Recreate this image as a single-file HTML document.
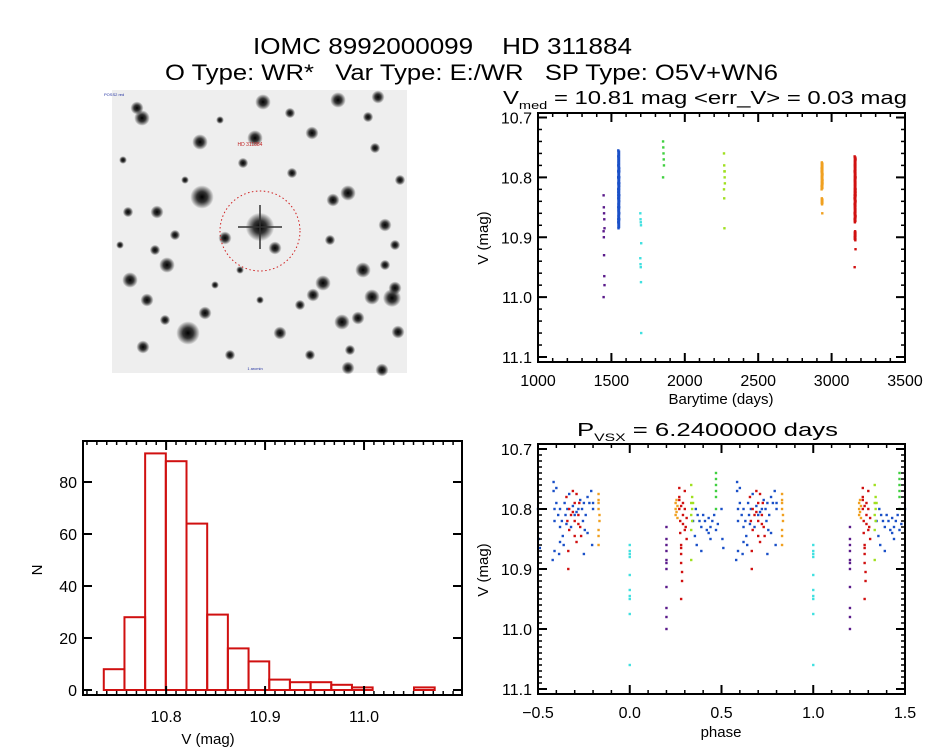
<!DOCTYPE html>
<html><head><meta charset="utf-8"><style>
html,body{margin:0;padding:0;background:#fff;}
svg{display:block;font-family:"Liberation Sans",sans-serif;}
</style></head><body>
<svg id="fig" width="944" height="747" viewBox="0 0 944 747" xmlns="http://www.w3.org/2000/svg">
<defs>
<radialGradient id="star"><stop offset="0" stop-color="#000" stop-opacity="1"/><stop offset="0.45" stop-color="#111" stop-opacity="0.85"/><stop offset="1" stop-color="#000" stop-opacity="0"/></radialGradient>
</defs>
<rect width="944" height="747" fill="#fff"/>
<text x="253" y="54" font-size="23" textLength="379" lengthAdjust="spacingAndGlyphs" xml:space="preserve">IOMC 8992000099    HD 311884</text>
<text x="165" y="80" font-size="22" textLength="613" lengthAdjust="spacingAndGlyphs" xml:space="preserve">O Type: WR*   Var Type: E:/WR   SP Type: O5V+WN6</text>
<g id="img"></g>
<g id="lc"></g>
<g id="hist"></g>
<g id="ph"></g>
</svg>
<script>
// ---- data ----
const groupNames = ['purple','blue','cyan','green','lime','orange','red'];
const groupColors = ['#5a1a8a','#1a50c8','#40e0e0','#40d040','#a0e020','#f0a020','#d01010'];
const groupTimes = [1450, 1550, 1700, 1855, 2270, 2935, 3160];
const purplePts = [[0.2,10.83],[0.2,10.85],[0.2,10.86],[0.2,10.87],[0.2,10.885],[0.2,10.89],[0.2,10.90],[0.2,10.93],[0.2,10.965],[0.2,10.98],[0.2,11.0]];
const bluePts = [[0.585,10.755],[0.585,10.77],[0.59,10.80],[0.59,10.82],[0.59,10.87],[0.60,10.79],[0.61,10.81],[0.615,10.875],[0.62,10.80],[0.62,10.83],[0.63,10.82],[0.635,10.845],[0.64,10.86],[0.645,10.79],[0.65,10.81],[0.655,10.825],[0.66,10.80],[0.70,10.81],[0.72,10.80],[0.73,10.785],[0.74,10.80],[0.745,10.82],[0.75,10.79],[0.755,10.835],[0.76,10.81],[0.77,10.78],[0.78,10.79],[0.79,10.77],[0.795,10.86],[0.80,10.79],[0.80,10.80],[0.36,10.80],[0.37,10.81],[0.38,10.82],[0.39,10.83],[0.39,10.87],[0.40,10.81],[0.41,10.82],[0.42,10.835],[0.43,10.84],[0.44,10.83],[0.45,10.82],[0.46,10.81],[0.48,10.825],[0.50,10.80],[0.505,10.85],[0.51,10.865],[0.345,10.82],[0.355,10.845],[0.365,10.86],[0.60,10.765],[0.67,10.775],[0.69,10.795],[0.71,10.805],[0.43,10.815],[0.47,10.835],[0.62,10.855],[0.77,10.84],[0.68,10.83],[0.44,10.85],[0.75,10.875],[0.58,10.885]];
const cyanPts = [[0.0,10.86],[0.0,10.87],[0.0,10.875],[0.0,10.88],[0.0,10.91],[0.0,10.935],[0.0,10.945],[0.0,10.95],[0.0,10.975],[0.0,11.06]];
const greenPts = [[0.47,10.74],[0.47,10.75],[0.47,10.76],[0.47,10.77],[0.47,10.78],[0.47,10.80]];
const limePts = [[0.335,10.76],[0.34,10.78],[0.335,10.79],[0.34,10.80],[0.335,10.81],[0.34,10.82],[0.335,10.835],[0.335,10.885],[0.345,10.79]];
const orangePts = [[0.25,10.79],[0.25,10.80],[0.25,10.81],[0.255,10.785],[0.26,10.795],[0.26,10.815],[0.83,10.775],[0.83,10.79],[0.83,10.80],[0.835,10.81],[0.835,10.82],[0.83,10.835],[0.83,10.845],[0.83,10.86],[0.255,10.805],[0.83,10.785]];
const redPts = [[0.27,10.765],[0.27,10.78],[0.27,10.80],[0.275,10.82],[0.275,10.84],[0.28,10.86],[0.28,10.875],[0.28,10.89],[0.285,10.905],[0.285,10.92],[0.28,10.95],[0.29,10.79],[0.29,10.81],[0.30,10.77],[0.30,10.80],[0.305,10.83],[0.31,10.85],[0.31,10.815],[0.655,10.78],[0.66,10.82],[0.665,10.87],[0.665,10.90],[0.67,10.80],[0.68,10.81],[0.69,10.77],[0.70,10.79],[0.70,10.82],[0.71,10.775],[0.72,10.81],[0.73,10.83],[0.735,10.845],[0.725,10.79],[0.27,10.785],[0.28,10.795],[0.29,10.825],[0.3,10.835],[0.69,10.805],[0.7,10.845],[0.71,10.855],[0.28,10.865],[0.67,10.835],[0.72,10.825]];
const groupPts = [purplePts, bluePts, cyanPts, greenPts, limePts, orangePts, redPts];
const histEdgeStart = 10.737;
const histBinWidth = 0.0209;
const histCounts = [8,28,91,88,64,29,16,11,4,3,3,2,1,0,0,1];
const lcXTicks = [1000,1500,2000,2500,3000,3500];
const magTicks = [10.7,10.8,10.9,11.0,11.1];
const phaseTicks = [-0.5,0.0,0.5,1.0,1.5];
const histXTicks = [10.8,10.9,11.0];
const histYTicks = [0,20,40,60,80];
const stars = [[202,197,9],[260,227,11],[188,333,9],[263,102,6],[338,100,6],[378,97,5],[142,118,6],[137,108,5],[200,142,6],[255,138,6],[312,133,5],[348,193,6],[333,200,5],[130,280,6],[167,265,6],[147,300,5],[323,283,6],[363,270,6],[342,322,6],[280,333,5],[143,347,5],[392,298,7],[372,297,6],[395,288,5],[398,332,5],[358,318,5],[157,212,5],[128,212,4],[205,313,5],[275,248,5],[225,238,5],[243,163,4],[292,173,4],[375,148,4],[368,117,4],[385,225,5],[313,295,5],[348,368,5],[382,370,5],[185,180,3],[290,113,4],[220,120,3],[175,235,4],[330,240,4],[395,245,4],[240,270,3],[300,305,4],[165,320,4],[230,355,4],[400,180,4],[123,160,3],[215,285,3],[350,350,4],[310,355,4],[260,300,3],[155,250,4],[385,265,4],[120,245,3]];

const svg = document.getElementById('fig');
const NS = 'http://www.w3.org/2000/svg';
function mk(parent, tag, attrs, text){
  const e = document.createElementNS(NS, tag);
  for (const k in attrs) e.setAttribute(k, attrs[k]);
  if (text !== undefined) e.textContent = text;
  parent.appendChild(e);
  return e;
}
function lin(d0,d1,r0,r1){ return v => r0 + (v-d0)/(d1-d0)*(r1-r0); }

// ---- sky image ----
const img = document.getElementById('img');
const bg = mk(img,'rect',{x:112,y:90,width:295,height:283,fill:'#eeeeee'});


stars.forEach(s=>{
  const c = mk(img,'circle',{cx:s[0],cy:s[1],r:s[2]*1.3,fill:'url(#star)'});
  
  
});
mk(img,'line',{x1:238,y1:227,x2:282,y2:227,stroke:'#333','stroke-width':1.5});
mk(img,'line',{x1:260,y1:205,x2:260,y2:249,stroke:'#333','stroke-width':1.5});
const ring = mk(img,'circle',{cx:260,cy:231,r:40,fill:'none',stroke:'#d02020','stroke-width':1,'stroke-dasharray':'1.5 2.5'});


const lab = mk(img,'text',{x:250,y:146,'font-size':5,fill:'#c02020','text-anchor':'middle'},'HD 311884');


mk(img,'text',{x:104,y:96,'font-size':4,fill:'#2030a0'},'POSS2 red');
mk(img,'text',{x:255,y:370,'font-size':4,fill:'#2030a0','text-anchor':'middle'},'1 arcmin');

// ---- axes helper ----
function frame(g, L, T, R, B){
  const r = mk(g,'rect',{x:L,y:T,width:R-L,height:B-T,fill:'none',stroke:'#000','stroke-width':2});
  
  
}
function xTicks(g, sx, L, R, T, B, majors, minorStep, fmt, labelY){
  const lo = Math.min(sx.inv0, sx.inv1), hi = Math.max(sx.inv0, sx.inv1);
  for (let v = Math.ceil(lo/minorStep-1e-6)*minorStep; v <= hi+1e-9; v += minorStep){
    const x = sx(v);
    mk(g,'line',{x1:x,y1:B,x2:x,y2:B-4,stroke:'#000','stroke-width':1.5});
    mk(g,'line',{x1:x,y1:T,x2:x,y2:T+4,stroke:'#000','stroke-width':1.5});
  }
  majors.forEach(v=>{
    const x = sx(v);
    mk(g,'line',{x1:x,y1:B,x2:x,y2:B-9,stroke:'#000','stroke-width':2});
    mk(g,'line',{x1:x,y1:T,x2:x,y2:T+9,stroke:'#000','stroke-width':2});
    const t = mk(g,'text',{x:x,y:labelY,'font-size':16,'text-anchor':'middle'},fmt(v));
    
    
  });
}
function yTicks(g, sy, L, R, lo, hi, majors, minorStep, fmt){
  if (minorStep){
    for (let v = Math.ceil(lo/minorStep-1e-6)*minorStep; v <= hi+1e-9; v += minorStep){
      const y = sy(v);
      mk(g,'line',{x1:L,y1:y,x2:L+4,y2:y,stroke:'#000','stroke-width':1.5});
      mk(g,'line',{x1:R,y1:y,x2:R-4,y2:y,stroke:'#000','stroke-width':1.5});
    }
  }
  majors.forEach(v=>{
    const y = sy(v);
    mk(g,'line',{x1:L,y1:y,x2:L+9,y2:y,stroke:'#000','stroke-width':2});
    mk(g,'line',{x1:R,y1:y,x2:R-9,y2:y,stroke:'#000','stroke-width':2});
    const t = mk(g,'text',{x:L-6,y:y+6,'font-size':16,'text-anchor':'end'},fmt(v));
    
    
  });
}
function label(g, x, y, txt, rot, name){
  const t = mk(g,'text',{x:x,y:y,'font-size':15,'text-anchor':'middle',transform:rot?`rotate(-90 ${x} ${y})`:''},txt);
  
  
  return t;
}
function dot(g, x, y, color){
  const d = mk(g,'rect',{x:x-1.2,y:y-1.2,width:2.4,height:2.4,fill:color});
  
  
}

// ---- light curve ----
(function(){
  const g = document.getElementById('lc');
  const L=538,R=905,T=113,B=362;
  const sx = lin(1000,3500,L,R); sx.inv0=1000; sx.inv1=3500;
  const sy = lin(10.7,11.1,117.5,357);
  groupPts.forEach((pts,gi)=>{
    pts.forEach((p,i)=>{ dot(g, sx(groupTimes[gi] + ((i%5)-2)*1.5), sy(p[1]), groupColors[gi]); });
    if (gi===1||gi===6||gi===5){
      const ms = pts.map(p=>p[1]).sort((a,b)=>a-b);
      for (let i=1;i<ms.length;i++) if (ms[i]-ms[i-1] < 0.012){
        const ln = mk(g,'line',{x1:sx(groupTimes[gi]),y1:sy(ms[i-1]),x2:sx(groupTimes[gi]),y2:sy(ms[i]),stroke:groupColors[gi],'stroke-width':3});
        
        
      }
    }
  });
  frame(g,L,T,R,B);
  xTicks(g,sx,L,R,T,B,lcXTicks,100,v=>String(v),386);
  yTicks(g,sy,L,R,10.692,11.108,magTicks,0.02,v=>v.toFixed(1));
  label(g,721,404,'Barytime (days)',false,'x-axis-title');
  label(g,488,238,'V (mag)',true,'y-axis-title');
  const tt = mk(g,'text',{x:503,y:104,'font-size':18,textLength:404,lengthAdjust:'spacingAndGlyphs'});
  
  
  tt.innerHTML = 'V<tspan font-size="11" dy="5">med</tspan><tspan dy="-5"> = 10.81 mag &lt;err_V&gt; = 0.03 mag</tspan>';
})();

// ---- phase plot ----
(function(){
  const g = document.getElementById('ph');
  const L=538,R=905,T=444,B=694;
  const sx = lin(-0.5,1.5,L,R); sx.inv0=-0.5; sx.inv1=1.5;
  const sy = lin(10.7,11.1,449,689);
  groupPts.forEach((pts,gi)=>{
    pts.forEach(p=>{
      [-1,0,1].forEach(k=>{
        const ph = p[0]+k;
        if (ph>=-0.5 && ph<=1.5) dot(g, sx(ph), sy(p[1]), groupColors[gi]);
      });
    });
  });
  frame(g,L,T,R,B);
  xTicks(g,sx,L,R,T,B,phaseTicks,0.1,v=>v.toFixed(1).replace('-','\u2212'),718);
  yTicks(g,sy,L,R,10.692,11.108,magTicks,0.01,v=>v.toFixed(1));
  label(g,721,737,'phase',false,'x-axis-title');
  label(g,488,570,'V (mag)',true,'y-axis-title');
  const tt = mk(g,'text',{x:577,y:436,'font-size':18,textLength:261,lengthAdjust:'spacingAndGlyphs'});
  
  
  tt.innerHTML = 'P<tspan font-size="11" dy="5">VSX</tspan><tspan dy="-5"> = 6.2400000 days</tspan>';
})();

// ---- histogram ----
(function(){
  const g = document.getElementById('hist');
  const L=83,R=462,T=441,B=695;
  const sx = lin(10.716,11.099,L,R); sx.inv0=10.716; sx.inv1=11.099;
  const sy = lin(0,80,690,482);
  histCounts.forEach((c,i)=>{
    const x0 = sx(histEdgeStart + i*histBinWidth), x1 = sx(histEdgeStart + (i+1)*histBinWidth);
    const b = mk(g,'rect',{x:x0,y:sy(c),width:x1-x0,height:sy(0)-sy(c),fill:'none',stroke:'#d01010','stroke-width':2});
    
    
  });
  frame(g,L,T,R,B);
  xTicks(g,sx,L,R,T,B,histXTicks,0.01,v=>v.toFixed(1),722);
  yTicks(g,sy,L,R,0,90,histYTicks,0,v=>String(v));
  label(g,208,744,'V (mag)',false,'x-axis-title');
  label(g,42,570,'N',true,'y-axis-title');
})();
</script>
</body></html>
